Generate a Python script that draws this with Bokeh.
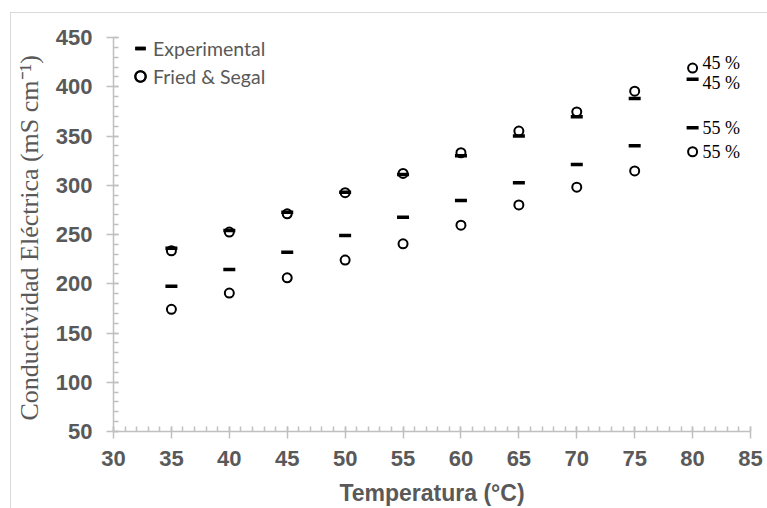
from bokeh.plotting import figure
from bokeh.models import SingleIntervalTicker, Range1d, ColumnDataSource
from bokeh.core.properties import value
from bokeh.embed import file_html
from bokeh.resources import INLINE

# ---- data ----
temperatura = [35, 40, 45, 50, 55, 60, 65, 70, 75, 80]
exp_45 = [236, 254, 272.5, 293, 311, 330, 350, 369.5, 388, 407.5]
fs_45 = [233.5, 252.5, 271, 292.5, 312, 333, 355, 374.5, 395.5, 419]
exp_55 = [197.5, 214.5, 232, 249, 267.5, 284.5, 302.5, 321, 340, 358.5]
fs_55 = [174, 190.5, 206, 224, 240.5, 259.5, 280, 298, 314.5, 334]
etiquetas = ["45 %", "45 %", "55 %", "55 %"]

GRAY = "#595959"
AXIS = "#c0c0c0"
FW, FH = 637, 394

p = figure(
    frame_width=FW, frame_height=FH,
    x_range=Range1d(30, 85), y_range=Range1d(50, 450),
    output_backend="svg", toolbar_location=None,
    min_border_left=113, min_border_top=37, min_border_right=17, min_border_bottom=77,
    background_fill_color="white", border_fill_color=None,
)
# light chart-area border (left and top edges visible), drawn behind the transparent canvas
p.styles = {
    "background": (
        "linear-gradient(#d9d9d9, #d9d9d9) 10px 12px / 1px calc(100% - 12px) no-repeat, "
        "linear-gradient(#d9d9d9, #d9d9d9) 10px 12px / calc(100% - 10px) 1px no-repeat, "
        "#ffffff"
    )
}
p.outline_line_color = None
p.grid.visible = False

# axes
p.xaxis.ticker = SingleIntervalTicker(interval=5, num_minor_ticks=5)
p.yaxis.ticker = SingleIntervalTicker(interval=50, num_minor_ticks=5)
for ax in (p.xaxis[0], p.yaxis[0]):
    ax.axis_line_color = AXIS
    ax.axis_line_width = 1.5
    ax.major_tick_line_color = AXIS
    ax.major_tick_line_width = 1.5
    ax.minor_tick_line_color = AXIS
    ax.minor_tick_line_width = 1.5
    ax.major_tick_out = 7
    ax.major_tick_in = 5
    ax.minor_tick_in = 5
    ax.minor_tick_out = 0
    ax.major_label_text_font = "Liberation Sans"
    ax.major_label_text_font_style = "bold"
    ax.major_label_text_color = GRAY
    ax.major_label_text_font_size = "22px"
    ax.axis_label_text_color = GRAY

p.xaxis.axis_label = "Temperatura (°C)"
p.xaxis.axis_label_text_font = "Liberation Sans"
p.xaxis.axis_label_text_font_style = "bold"
p.xaxis.axis_label_text_font_size = "23px"
p.xaxis.major_label_standoff = 12
p.xaxis.axis_label_standoff = 11

p.yaxis.axis_label = "Conductividad Eléctrica  (mS cm⁻¹)"
p.yaxis.axis_label_text_font = "Liberation Serif"
p.yaxis.axis_label_text_font_style = "normal"
p.yaxis.axis_label_text_font_size = "26px"
p.yaxis.major_label_standoff = 14
p.yaxis.axis_label_standoff = 9

# series
src = ColumnDataSource(dict(t=temperatura, e45=exp_45, f45=fs_45, e55=exp_55, f55=fs_55))
p.scatter("t", "f45", source=src, marker="circle", size=9, line_width=2,
          line_color="black", fill_color=None, legend_label="Fried & Segal")
p.scatter("t", "f55", source=src, marker="circle", size=9, line_width=2,
          line_color="black", fill_color=None, legend_label="Fried & Segal")
p.scatter("t", "e45", source=src, marker="dash", size=12, line_width=3.5,
          line_color="black", legend_label="Experimental")
p.scatter("t", "e55", source=src, marker="dash", size=12, line_width=3.5,
          line_color="black", legend_label="Experimental")

# data labels at the last temperature
lab = ColumnDataSource(dict(
    x=[temperatura[-1]] * 4,
    y=[fs_45[-1], exp_45[-1], exp_55[-1], fs_55[-1]],
    text=etiquetas,
    dy=[-5, 4, 0, 0.5],
))
p.text("x", "y", text="text", source=lab, x_offset=10, y_offset="dy",
       text_font=value("Liberation Serif"), text_font_size="18px",
       text_color="black", text_baseline="middle", text_align="left")

# legend
leg = p.legend[0]
leg.items = sorted(leg.items, key=lambda it: 0 if it.label.value == "Experimental" else 1)
leg.location = (14, 342)
leg.margin = 0
leg.padding = 0
leg.spacing = 2
leg.glyph_width = 26
leg.glyph_height = 26
leg.label_standoff = 0
leg.label_text_font = "Lato"
leg.label_text_font_size = "19.5px"
leg.label_text_color = GRAY
leg.background_fill_alpha = 0
leg.border_line_color = None

open("out.html", "w").write(file_html(p, INLINE))
